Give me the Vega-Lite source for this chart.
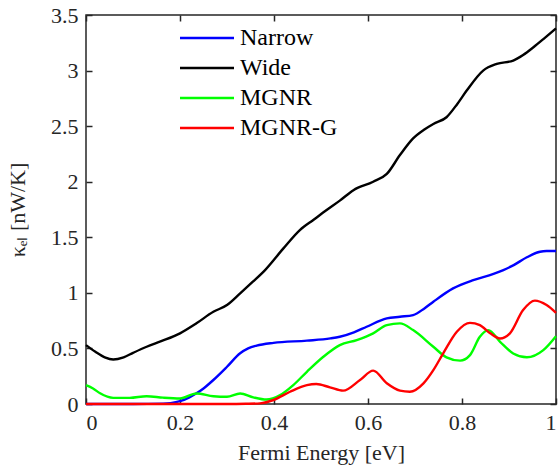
{
  "$schema": "https://vega.github.io/schema/vega-lite/v6.json",
  "width": 470,
  "height": 389,
  "autosize": "none",
  "padding": {"left": 86, "top": 15, "right": 3, "bottom": 69},
  "background": "white",
  "config": {
    "view": {"stroke": "#262626", "strokeWidth": 1.5},
    "font": "Liberation Serif, serif",
    "axis": {"labelFont": "Liberation Serif, serif", "titleFont": "Liberation Serif, serif", "labelColor": "#262626", "titleColor": "#262626", "domain": false, "tickColor": "#262626", "tickWidth": 1.5, "tickSize": 6, "offset": -6, "grid": false, "labelFontSize": 22, "titleFontSize": 22, "titleFontWeight": "normal", "format": "~g"}
  },
  "data": {"values": [
    {"series":"Wide","x":0,"y":0.53},{"series":"Wide","x":0.02,"y":0.47},{"series":"Wide","x":0.04,"y":0.42},{"series":"Wide","x":0.058,"y":0.40},{"series":"Wide","x":0.08,"y":0.42},{"series":"Wide","x":0.1,"y":0.46},{"series":"Wide","x":0.129,"y":0.515},{"series":"Wide","x":0.16,"y":0.565},{"series":"Wide","x":0.2,"y":0.636},{"series":"Wide","x":0.235,"y":0.726},{"series":"Wide","x":0.271,"y":0.83},{"series":"Wide","x":0.3,"y":0.89},{"series":"Wide","x":0.328,"y":0.995},{"series":"Wide","x":0.355,"y":1.10},{"series":"Wide","x":0.381,"y":1.205},{"series":"Wide","x":0.42,"y":1.40},{"series":"Wide","x":0.455,"y":1.565},{"series":"Wide","x":0.485,"y":1.66},{"series":"Wide","x":0.512,"y":1.745},{"series":"Wide","x":0.54,"y":1.83},{"series":"Wide","x":0.569,"y":1.924},{"series":"Wide","x":0.611,"y":2.0},{"series":"Wide","x":0.64,"y":2.07},{"series":"Wide","x":0.668,"y":2.24},{"series":"Wide","x":0.696,"y":2.39},{"series":"Wide","x":0.72,"y":2.47},{"series":"Wide","x":0.739,"y":2.52},{"series":"Wide","x":0.767,"y":2.58},{"series":"Wide","x":0.79,"y":2.70},{"series":"Wide","x":0.81,"y":2.82},{"series":"Wide","x":0.845,"y":3.0},{"series":"Wide","x":0.874,"y":3.06},{"series":"Wide","x":0.909,"y":3.09},{"series":"Wide","x":0.93,"y":3.14},{"series":"Wide","x":0.952,"y":3.21},{"series":"Wide","x":0.975,"y":3.29},{"series":"Wide","x":1.0,"y":3.38},
    {"series":"Narrow","x":0,"y":0},{"series":"Narrow","x":0.1,"y":0},{"series":"Narrow","x":0.164,"y":0.003},{"series":"Narrow","x":0.18,"y":0.008},{"series":"Narrow","x":0.2,"y":0.025},{"series":"Narrow","x":0.22,"y":0.06},{"series":"Narrow","x":0.235,"y":0.096},{"series":"Narrow","x":0.25,"y":0.14},{"series":"Narrow","x":0.271,"y":0.216},{"series":"Narrow","x":0.3,"y":0.335},{"series":"Narrow","x":0.328,"y":0.456},{"series":"Narrow","x":0.345,"y":0.5},{"series":"Narrow","x":0.363,"y":0.525},{"series":"Narrow","x":0.399,"y":0.55},{"series":"Narrow","x":0.47,"y":0.57},{"series":"Narrow","x":0.52,"y":0.59},{"series":"Narrow","x":0.54,"y":0.605},{"series":"Narrow","x":0.57,"y":0.645},{"series":"Narrow","x":0.597,"y":0.695},{"series":"Narrow","x":0.64,"y":0.77},{"series":"Narrow","x":0.668,"y":0.785},{"series":"Narrow","x":0.696,"y":0.80},{"series":"Narrow","x":0.72,"y":0.86},{"series":"Narrow","x":0.739,"y":0.92},{"series":"Narrow","x":0.781,"y":1.04},{"series":"Narrow","x":0.824,"y":1.115},{"series":"Narrow","x":0.867,"y":1.17},{"series":"Narrow","x":0.888,"y":1.205},{"series":"Narrow","x":0.91,"y":1.25},{"series":"Narrow","x":0.938,"y":1.32},{"series":"Narrow","x":0.966,"y":1.37},{"series":"Narrow","x":0.98,"y":1.376},{"series":"Narrow","x":1.0,"y":1.376},
    {"series":"MGNR","x":0,"y":0.17},{"series":"MGNR","x":0.015,"y":0.14},{"series":"MGNR","x":0.03,"y":0.096},{"series":"MGNR","x":0.058,"y":0.055},{"series":"MGNR","x":0.093,"y":0.055},{"series":"MGNR","x":0.129,"y":0.07},{"series":"MGNR","x":0.164,"y":0.057},{"series":"MGNR","x":0.2,"y":0.05},{"series":"MGNR","x":0.235,"y":0.095},{"series":"MGNR","x":0.271,"y":0.07},{"series":"MGNR","x":0.3,"y":0.065},{"series":"MGNR","x":0.328,"y":0.095},{"series":"MGNR","x":0.356,"y":0.06},{"series":"MGNR","x":0.384,"y":0.04},{"series":"MGNR","x":0.413,"y":0.08},{"series":"MGNR","x":0.441,"y":0.17},{"series":"MGNR","x":0.47,"y":0.29},{"series":"MGNR","x":0.505,"y":0.425},{"series":"MGNR","x":0.54,"y":0.53},{"series":"MGNR","x":0.576,"y":0.575},{"series":"MGNR","x":0.611,"y":0.636},{"series":"MGNR","x":0.64,"y":0.71},{"series":"MGNR","x":0.668,"y":0.725},{"series":"MGNR","x":0.696,"y":0.665},{"series":"MGNR","x":0.739,"y":0.515},{"series":"MGNR","x":0.767,"y":0.42},{"series":"MGNR","x":0.796,"y":0.39},{"series":"MGNR","x":0.817,"y":0.44},{"series":"MGNR","x":0.838,"y":0.605},{"series":"MGNR","x":0.856,"y":0.665},{"series":"MGNR","x":0.881,"y":0.56},{"series":"MGNR","x":0.909,"y":0.455},{"series":"MGNR","x":0.938,"y":0.42},{"series":"MGNR","x":0.973,"y":0.485},{"series":"MGNR","x":1.0,"y":0.61},
    {"series":"MGNR-G","x":0,"y":0},{"series":"MGNR-G","x":0.3,"y":0},{"series":"MGNR-G","x":0.34,"y":0.002},{"series":"MGNR-G","x":0.37,"y":0.006},{"series":"MGNR-G","x":0.399,"y":0.036},{"series":"MGNR-G","x":0.434,"y":0.11},{"series":"MGNR-G","x":0.47,"y":0.17},{"series":"MGNR-G","x":0.49,"y":0.18},{"series":"MGNR-G","x":0.519,"y":0.15},{"series":"MGNR-G","x":0.547,"y":0.12},{"series":"MGNR-G","x":0.583,"y":0.216},{"series":"MGNR-G","x":0.611,"y":0.30},{"series":"MGNR-G","x":0.64,"y":0.186},{"series":"MGNR-G","x":0.668,"y":0.12},{"series":"MGNR-G","x":0.689,"y":0.11},{"series":"MGNR-G","x":0.718,"y":0.186},{"series":"MGNR-G","x":0.739,"y":0.305},{"series":"MGNR-G","x":0.76,"y":0.456},{"series":"MGNR-G","x":0.789,"y":0.65},{"series":"MGNR-G","x":0.817,"y":0.73},{"series":"MGNR-G","x":0.838,"y":0.71},{"series":"MGNR-G","x":0.86,"y":0.636},{"series":"MGNR-G","x":0.881,"y":0.59},{"series":"MGNR-G","x":0.902,"y":0.636},{"series":"MGNR-G","x":0.93,"y":0.845},{"series":"MGNR-G","x":0.955,"y":0.93},{"series":"MGNR-G","x":0.98,"y":0.89},{"series":"MGNR-G","x":1.0,"y":0.82}
  ]},
  "layer": [
    {
      "mark": {"type": "line", "interpolate": "monotone", "strokeWidth": 2.4},
      "encoding": {
        "x": {"field": "x", "type": "quantitative", "scale": {"domain": [0, 1], "nice": false},
              "axis": {"orient": "bottom", "values": [0, 0.2, 0.4, 0.6, 0.8, 1], "labelPadding": 8, "title": "Fermi Energy [eV]", "titlePadding": 9}},
        "y": {"field": "y", "type": "quantitative", "scale": {"domain": [0, 3.5], "nice": false},
              "axis": {"orient": "left", "values": [0, 0.5, 1, 1.5, 2, 2.5, 3, 3.5], "labelPadding": 8, "title": "κₑₗ [nW/K]", "titlePadding": 21}},
        "color": {"field": "series", "type": "nominal",
                  "scale": {"domain": ["Narrow", "Wide", "MGNR", "MGNR-G"], "range": ["#0000ff", "#000000", "#00ff00", "#ff0000"]},
                  "legend": {"title": null, "orient": "none", "legendX": 109, "legendY": 11, "symbolType": "M-3,0H3", "symbolSize": 324, "symbolStrokeWidth": 2.4, "rowPadding": 6, "labelFont": "Liberation Serif, serif", "labelFontSize": 24, "labelColor": "#000000", "labelOffset": 21}}
      }
    },
    {
      "mark": {"type": "line", "strokeOpacity": 0},
      "encoding": {
        "x": {"field": "x", "type": "quantitative", "axis": {"orient": "top", "values": [0, 0.2, 0.4, 0.6, 0.8, 1], "labels": false, "title": null}},
        "y": {"field": "y", "type": "quantitative", "axis": {"orient": "right", "values": [0, 0.5, 1, 1.5, 2, 2.5, 3, 3.5], "labels": false, "title": null}},
        "detail": {"field": "series"}
      }
    }
  ],
  "resolve": {"axis": {"x": "independent", "y": "independent"}}
}
